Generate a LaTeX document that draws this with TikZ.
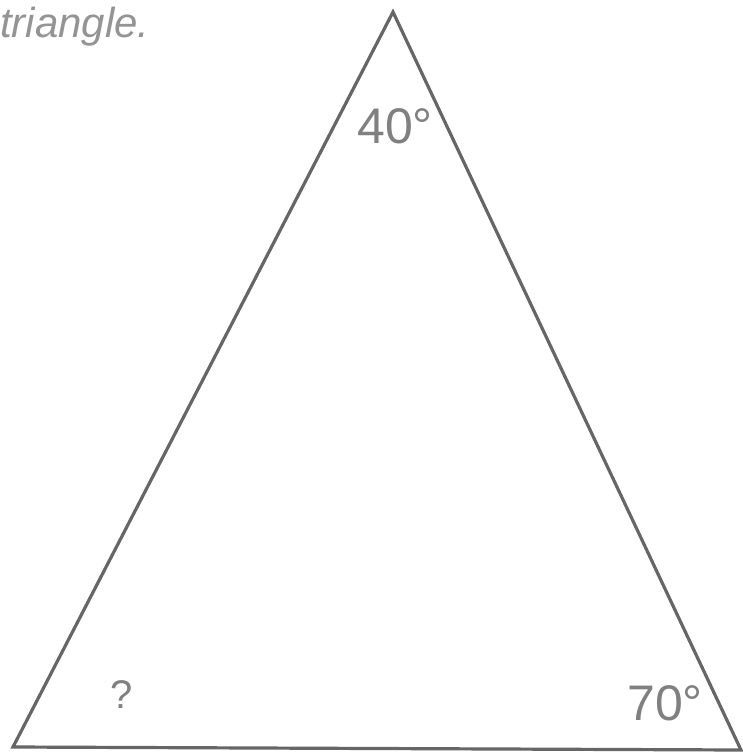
\documentclass[tikz,border=0pt]{standalone}
\usepackage{fontspec}
\setmainfont{Liberation Sans}
\usetikzlibrary{positioning}

\begin{document}
\begin{tikzpicture}[
  x=1pt, y=-1pt,
  edge/.style  = {draw=black!60, line width=3.2pt, line join=miter},
  angle/.style = {text=black!50, font=\fontsize{50}{50}\selectfont, inner sep=0pt},
  caption/.style = {text=black!42, font=\itshape\fontsize{42}{42}\selectfont, inner sep=0pt},
]
  \useasboundingbox (0,0) rectangle (742,754);

  % ---- vertices of the triangle ----
  \coordinate (top)   at (393, 12);
  \coordinate (left)  at (13, 747);
  \coordinate (right) at (741, 750);
  \draw[edge] (top) -- (left) -- (right) -- cycle;

  % ---- angle labels ----
  \node[angle, anchor=base west] (atop)   at (357, 144) {40°};
  \node[angle, anchor=base west, font=\fontsize{40}{40}\selectfont] (aleft) at (110, 708) {?};
  \node[angle, anchor=base west] (aright) at (627, 720) {70°};

  % ---- text cut at the top edge ----
  \node[caption, anchor=base west] (cap) at (0, 38) {triangle.};
\end{tikzpicture}
\end{document}
